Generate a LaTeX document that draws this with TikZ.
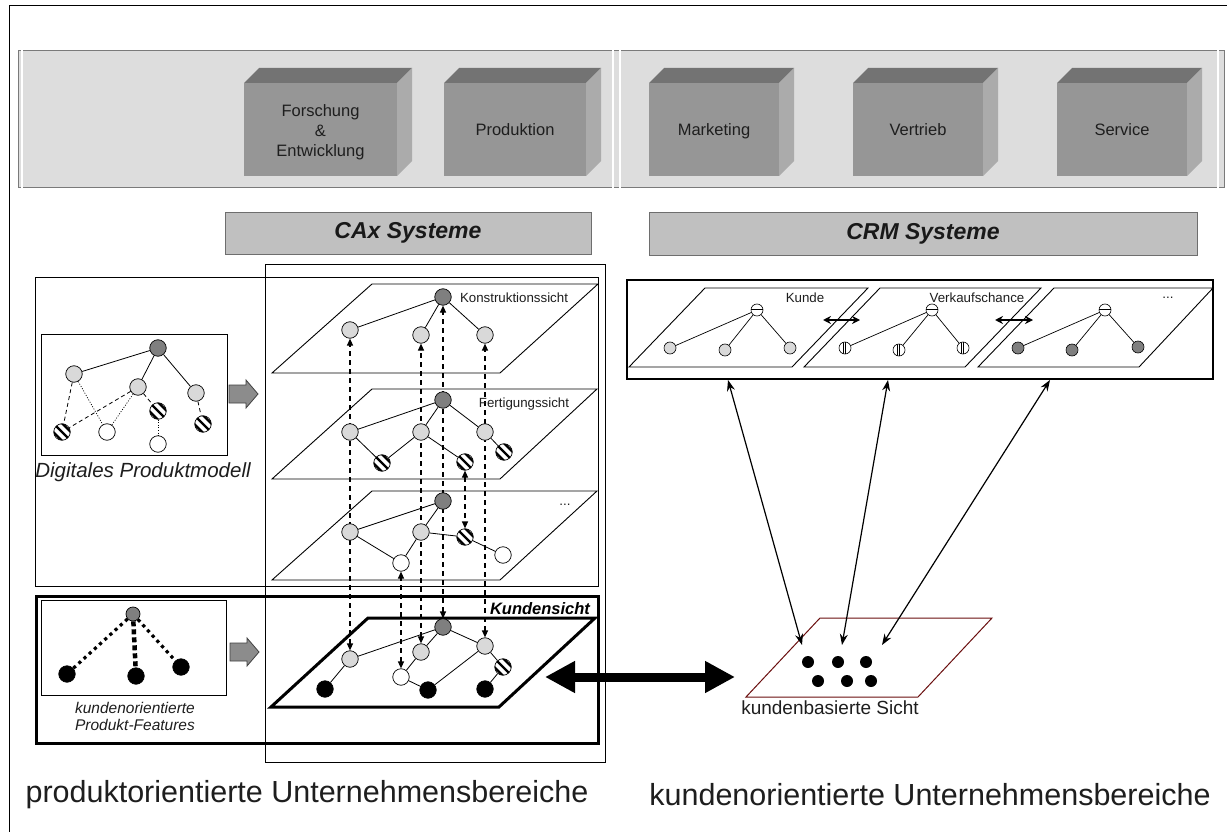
\documentclass[tikz,border=0pt]{standalone}
\usepackage{fontspec}
\setmainfont{Liberation Sans}
\usetikzlibrary{arrows.meta}
\pgfdeclarelayer{back}
\pgfdeclarelayer{mid}
\pgfsetlayers{back,mid,main}
\definecolor{bandgray}{HTML}{DDDDDD}
\definecolor{boxfront}{HTML}{969696}
\definecolor{boxtop}{HTML}{737373}
\definecolor{boxside}{HTML}{ABABAB}
\definecolor{sysgray}{HTML}{C0C0C0}
\definecolor{sysborder}{HTML}{6E6E6E}
\definecolor{ltnode}{HTML}{D9D9D9}
\definecolor{dknode}{HTML}{7F7F7F}
\definecolor{panelgray}{HTML}{7A7A7A}
\definecolor{kbred}{HTML}{6B0F0F}
\definecolor{garrowfill}{HTML}{8C8C8C}
\definecolor{txtdark}{HTML}{1E1E1E}
\newcommand\mkcube[6]{%
  \fill[boxtop] (#2,83) -- (#2+15,68) -- (#3+15,68) -- (#3,83) -- cycle;
  \fill[boxside] (#3,83) -- (#3+15,68) -- (#3+15,161) -- (#3,176) -- cycle;
  \fill[boxfront] (#2,83) rectangle (#3,176);
  \node[cubetext, text width=#4pt, #5] (#1) at ({(#2+#3)/2},129.5) {#6};}
\tikzset{
  nd/.style={circle, draw=black, line width=0.7pt, minimum size=16.5pt, inner sep=0pt},
  dk/.style={nd, fill=dknode},
  lt/.style={nd, fill=ltnode},
  wt/.style={nd, fill=white},
  bk/.style={nd, fill=black},
  st/.style={nd, fill=white, path picture={
    \foreach \o in {-4.4,0,4.4}{
      \draw[line width=2.4pt] ([shift={({\o*1pt-10pt},{\o*1pt+10pt})}]path picture bounding box.center) -- ++(20pt,-20pt);}}},
  sm/.style={circle, draw=black, line width=0.6pt, minimum size=12pt, inner sep=0pt},
  smlt/.style={sm, fill=ltnode},
  smdk/.style={sm, fill=dknode},
  smh/.style={sm, fill=white, path picture={
    \fill[black] ([shift={(-7pt,-0.4pt)}]path picture bounding box.center) rectangle ++(14pt,1.6pt);}},
  smv/.style={sm, fill=white, path picture={
    \draw[line width=0.6pt] ([shift={(-1.6pt,-7pt)}]path picture bounding box.center) -- ++(0,14pt);
    \draw[line width=0.9pt] ([shift={(0.6pt,-7pt)}]path picture bounding box.center) -- ++(0,14pt);}},
  kdot/.style={circle, fill=black, minimum size=12pt, inner sep=0pt},
  cubetext/.style={inner sep=0pt, align=center, text=txtdark, font=\fontsize{16.5}{20}\selectfont},
  oneline/.style={text height=12pt, text depth=0pt},
  sysbox/.style={fill=sysgray, draw=sysborder, line width=1pt, inner sep=0pt, font=\fontsize{23}{27}\selectfont\bfseries\itshape, text=black!90},
  cont/.style={draw=black, line width=0.9pt},
  kbox/.style={draw=black, line width=3pt},
  plane/.style={draw=black, line width=0.9pt, line join=miter},
  kplane/.style={draw=black, line width=3pt, line join=miter},
  panel/.style={draw=panelgray, line width=0.6pt, double=white, double distance=1.2pt},
  edge/.style={draw=black, line width=0.8pt},
  mdash/.style={edge, dash pattern=on 4pt off 3pt},
  mdot/.style={edge, line width=0.7pt, dash pattern=on 1pt off 1.6pt},
  fdot/.style={draw=black, line width=3.2pt, dash pattern=on 3.2pt off 3.8pt},
  fdash/.style={draw=black, line width=4.5pt, dash pattern=on 5pt off 3pt},
  dlink/.style={draw=black, line width=1.2pt, dash pattern=on 5pt off 4pt, {Triangle[length=7pt,width=6pt]}-{Triangle[length=7pt,width=6pt]}},
  crmlink/.style={draw=black, line width=1.5pt, {Stealth[length=8pt,width=8pt]}-{Stealth[length=8pt,width=8pt]}},
  kblink/.style={draw=black, line width=1.2pt, {Stealth[length=11pt,width=8pt]}-{Stealth[length=11pt,width=8pt]}},
  bigarrow/.style={draw=black, line width=9pt, {Triangle[length=30pt,width=30pt]}-{Triangle[length=30pt,width=30pt]}},
  garrow/.style={fill=garrowfill, draw=black!75, line width=0.8pt, line join=miter},
  f13/.style={font=\fontsize{13.3}{16}\selectfont, text=txtdark},
  big/.style={font=\fontsize{30.5}{35}\selectfont, text=txtdark},
}
\begin{document}
\begin{tikzpicture}[x=1pt,y=-1pt]
\useasboundingbox (0,0) rectangle (1227,832);
\begin{pgfonlayer}{back}
\fill[white] (0,0) rectangle (1227,832);
\end{pgfonlayer}
% outer frame
\draw[line width=1pt] (1227,6) -- (9,6) -- (9,832);
% band
\draw[fill=bandgray, draw=panelgray, line width=1pt] (18,51) rectangle (1224,188);
% panels
\draw[panel] (22,43) rectangle (613,818);
\draw[panel] (620,43) rectangle (1218,818);
% cubes
\mkcube{fe}{244}{397}{153}{yshift=-3pt}{Forschung\\\&\\Entwicklung}
\mkcube{prod}{444}{586}{142}{oneline}{Produktion}
\mkcube{mkt}{649}{779}{130}{oneline}{Marketing}
\mkcube{vtr}{853}{983}{130}{oneline}{Vertrieb}
\mkcube{srv}{1057}{1187}{130}{oneline}{Service}
% system boxes
\node[sysbox, minimum width=366pt, minimum height=42pt] (cax) at (408,233) {CAx Systeme};
\node[sysbox, minimum width=548pt, minimum height=43pt] (crm) at (923,233.5) {CRM Systeme};
% containers
\draw[cont] (35,277) rectangle (598,586);
\draw[cont] (265,264) rectangle (605,762);
\draw[kbox] (36,596) rectangle (598,743);
\draw[cont] (41,334) rectangle (227,455);
\draw[cont] (41,600) rectangle (226,695);
\draw[cont, line width=1.3pt] (627,280) rectangle (1213,379);
% planes (left)
\draw[plane] (372,284) -- (598,284) -- (500,373) -- (272,373) -- cycle;
\draw[plane] (372,389) -- (597,389) -- (500,479) -- (272,479) -- cycle;
\draw[plane] (372,491) -- (597,491) -- (500,580) -- (272,580) -- cycle;
\draw[kplane] (368,618) -- (595,618) -- (499,707) -- (271,707) -- cycle;
% planes (right)
\draw[plane] (705,288) -- (868,288) -- (792,367) -- (629,367) -- cycle;
\draw[plane] (880,288) -- (1041,288) -- (965,367) -- (804,367) -- cycle;
\draw[plane] (1054,288) -- (1213,288) -- (1139,367) -- (978,367) -- cycle;
\draw[draw=kbred, line width=1pt] (820,618) -- (992,618) -- (918,697) -- (746,697) -- cycle;
% gray block arrows
\draw[garrow] (229,385) -- (246,385) -- (246,380) -- (258,394) -- (246,408) -- (246,403) -- (229,403) -- cycle;
\draw[garrow] (230,643) -- (247,643) -- (247,638) -- (259,652) -- (247,666) -- (247,661) -- (230,661) -- cycle;
% digital product model
\node[dk] (mR) at (158,348) {};
\node[lt] (mA) at (74,374) {};
\node[lt] (mB) at (138,387) {};
\node[lt] (mC) at (196,393) {};
\node[st] (mD) at (62,432) {};
\node[wt] (mE) at (107,432) {};
\node[st] (mF) at (158,411) {};
\node[wt] (mG) at (158,444) {};
\node[st] (mH) at (203,424) {};
\draw[edge] (mR) -- (mA); \draw[edge] (mR) -- (mB); \draw[edge] (mR) -- (mC);
\draw[mdash] (mA) -- (mD); \draw[mdot] (mA) -- (mE);
\draw[mdash] (mB) -- (mD); \draw[mdot] (mB) -- (mE);
\draw[mdash] (mB) -- (mF); \draw[mdot] (mF) -- (mG);
\draw[mdash] (mC) -- (mH);
% Konstruktionssicht
\node[dk] (kR) at (443,297) {};
\node[lt] (kA) at (350,330) {};
\node[lt] (kB) at (421,335) {};
\node[lt] (kC) at (485,335) {};
\draw[edge] (kR) -- (kA); \draw[edge] (kR) -- (kB); \draw[edge] (kR) -- (kC);
% Fertigungssicht
\node[dk] (fR) at (443,400) {};
\node[lt] (fA) at (350,432) {};
\node[lt] (fB) at (421,432) {};
\node[lt] (fC) at (485,432) {};
\node[st] (fS1) at (382,463) {};
\node[st] (fS2) at (465,462) {};
\node[st] (fS3) at (504,452) {};
\draw[edge] (fR) -- (fA); \draw[edge] (fR) -- (fB); \draw[edge] (fR) -- (fC);
\draw[edge] (fA) -- (fS1); \draw[edge] (fS1) -- (fB); \draw[edge] (fB) -- (fS2);
\draw[edge] (fC) -- (fS3);
% third plane
\node[dk] (tR) at (443,501) {};
\node[lt] (tA) at (350,532) {};
\node[lt] (tB) at (421,532) {};
\node[st] (tS) at (465,537) {};
\node[wt] (tW2) at (503,555) {};
\node[wt] (tW1) at (401,563) {};
\draw[edge] (tR) -- (tA); \draw[edge] (tR) -- (tB); \draw[edge] (tB) -- (tS);
\draw[edge] (tS) -- (tW2); \draw[edge] (tA) -- (tW1); \draw[edge] (tB) -- (tW1);
% Kundensicht
\node[dk] (uR) at (443,627) {};
\node[lt] (uA) at (350,659) {};
\node[lt] (uB) at (421,652) {};
\node[lt] (uC) at (485,646) {};
\node[wt] (uW) at (401,677) {};
\node[st] (uS) at (503,667) {};
\node[bk] (uK1) at (325,689) {};
\node[bk] (uK2) at (428,690) {};
\node[bk] (uK3) at (485,689) {};
\draw[edge] (uR) -- (uA); \draw[edge] (uR) -- (uB); \draw[edge] (uR) -- (uC);
\draw[edge] (uA) -- (uK1); \draw[edge] (uB) -- (uW); \draw[edge] (uW) -- (uK2);
\draw[edge] (uK2) -- (uC); \draw[edge] (uC) -- (uS); \draw[edge] (uS) -- (uK3);
% dashed links (behind the nodes they pass)
\begin{pgfonlayer}{mid}
\draw[dlink] (uA) -- (kA);
\draw[dlink] (uB) -- (kB);
\draw[dlink] (uR) -- (kR);
\draw[dlink] (uC) -- (kC);
\draw[dlink] (uW) -- (tW1);
\draw[dlink] (fS2) -- (tS);
\end{pgfonlayer}
% kundenorientierte features
\node[nd, fill=dknode, minimum size=14pt] (oR) at (133,614) {};
\node[bk] (oA) at (67,674) {};
\node[bk] (oB) at (136,676) {};
\node[bk] (oC) at (181,667) {};
\draw[fdot] (oR) -- (oA);
\draw[fdash] (oR) -- (oB);
\draw[fdot] (oR) -- (oC);
% CRM planes
\node[smh] (c1R) at (757,310) {};
\node[smlt] (c1A) at (670,348) {};
\node[smlt] (c1B) at (725,350) {};
\node[smlt] (c1C) at (790,348) {};
\node[smh] (c2R) at (932,310) {};
\node[smv] (c2A) at (845,348) {};
\node[smv] (c2B) at (899,350) {};
\node[smv] (c2C) at (963,348) {};
\node[smh] (c3R) at (1105,310) {};
\node[smdk] (c3A) at (1018,348) {};
\node[smdk] (c3B) at (1072,350) {};
\node[smdk] (c3C) at (1138,347) {};
\foreach \p in {1,2,3}{\foreach \q in {A,B,C}{\draw[edge, line width=0.7pt] (c\p R) -- (c\p\q);}}
\coordinate (x1a) at (823,320); \coordinate (x1b) at (860,320);
\coordinate (x2a) at (995,320); \coordinate (x2b) at (1033,320);
\draw[crmlink] (x1a) -- (x1b);
\draw[crmlink] (x2a) -- (x2b);
% kundenbasierte Sicht
\node[kdot] (d1) at (808,662) {};
\node[kdot] (d2) at (838,662) {};
\node[kdot] (d3) at (866,662) {};
\node[kdot] (d4) at (818,681) {};
\node[kdot] (d5) at (847,681) {};
\node[kdot] (d6) at (871,681) {};
\coordinate (a1t) at (728,380); \coordinate (a1b) at (802,645);
\coordinate (a2t) at (888,380); \coordinate (a2b) at (842,645);
\coordinate (a3t) at (1050,380); \coordinate (a3b) at (882,645);
\draw[kblink] (a1t) -- (a1b);
\draw[kblink] (a2t) -- (a2b);
\draw[kblink] (a3t) -- (a3b);
% big double arrow
\coordinate (bigL) at (545,677); \coordinate (bigR) at (735,677);
\draw[bigarrow] (bigL) -- (bigR);
% labels
\node[f13] (lk) at (514,298) {Konstruktionssicht};
\node[f13] (lf) at (524,404) {Fertigungssicht};
\node[f13] (ld) at (565,505) {...};
\node[font=\fontsize{16.5}{20}\selectfont\bfseries\itshape] (lks) at (540,609) {Kundensicht};
\node[font=\fontsize{20.5}{24}\selectfont\itshape, text=txtdark] (ldp) at (143,472) {Digitales Produktmodell};
\node[align=center, font=\fontsize{15.5}{17}\selectfont\itshape, text=txtdark] (lko) at (135,716) {kundenorientierte\\Produkt-Features};
\node[big] (lpu) at (307,795) {produktorientierte Unternehmensbereiche};
\node[big] (lku) at (930,795) {kundenorientierte Unternehmensbereiche};
\node[font=\fontsize{19}{22}\selectfont, text=txtdark] (lkb) at (830,708) {kundenbasierte Sicht};
\node[f13] (lkunde) at (805,298) {Kunde};
\node[f13] (lvk) at (977,298) {Verkaufschance};
\node[f13] (ldd) at (1168,298) {...};
\end{tikzpicture}
\end{document}
